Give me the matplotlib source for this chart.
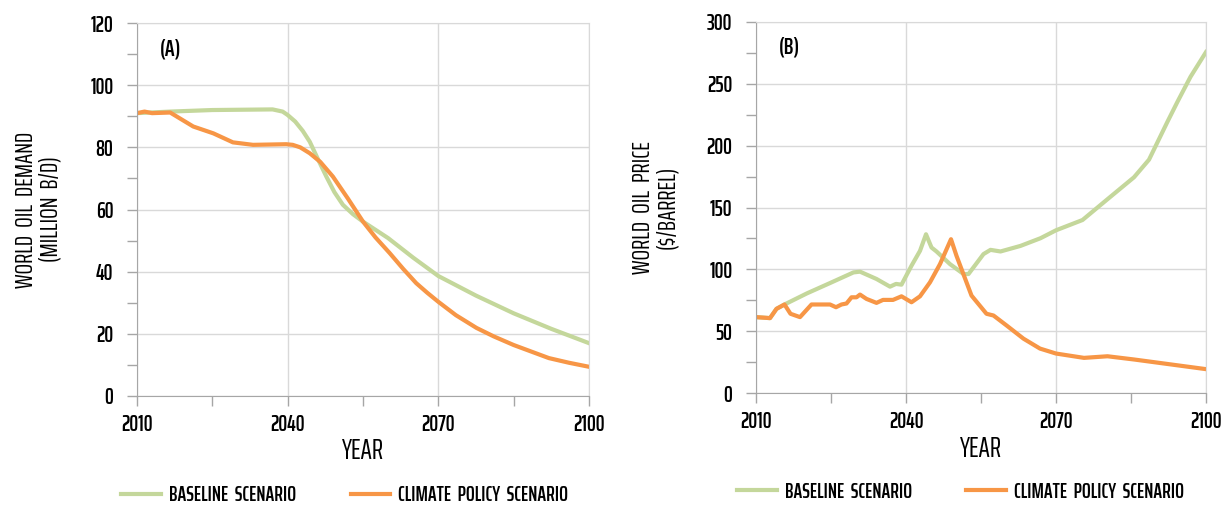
import numpy as np
import matplotlib
matplotlib.use("Agg")
import matplotlib.pyplot as plt
from matplotlib.ticker import MultipleLocator

plt.rcParams['font.family'] = ['Saira ExtraCondensed', 'DejaVu Sans']
plt.rcParams['font.weight'] = 'semibold'

# (A) World oil demand, million b/d
yr_dem_base = [2010, 2016.6, 2025, 2037, 2039, 2040, 2041.5, 2043, 2044.4, 2046, 2047.7,
               2049.3, 2051, 2053, 2055, 2060, 2065, 2070, 2077.5, 2085, 2092.5, 2100]
dem_base = [91.0, 91.5, 92.0, 92.2, 91.5, 90.4, 88.3, 85.3, 81.8, 76.3, 70.6,
            65.6, 61.5, 58.5, 56.1, 50.8, 44.5, 38.6, 32.3, 26.6, 21.6, 17.0]
yr_dem_clim = [2010, 2011.5, 2013, 2016.6, 2021.2, 2025.2, 2029.1, 2033.1, 2039.7, 2041,
               2042.5, 2044.4, 2046.5, 2049, 2052, 2055, 2057.5, 2060.3, 2063, 2065.6,
               2067.8, 2070, 2073.5, 2077.6, 2081, 2085, 2092, 2096, 2100]
dem_clim = [91.0, 91.5, 91.0, 91.2, 86.7, 84.5, 81.6, 80.8, 81.0, 80.8,
            80.0, 78.1, 75.3, 70.6, 63.5, 56.1, 51.0, 46.0, 40.9, 36.3,
            33.2, 30.3, 26.0, 21.9, 19.2, 16.4, 12.2, 10.7, 9.4]

# (B) World oil price, $/barrel
yr_price_base = [2010, 2012.8, 2014.1, 2015.7, 2020.2, 2024.8, 2029.5, 2030.8, 2034.1,
                 2036.8, 2038, 2039.1, 2041.1, 2042.8, 2044, 2045.1, 2046.1, 2048.8,
                 2051.5, 2052.5, 2055.5, 2056.9, 2058.9, 2062.9, 2066.9, 2070, 2075.3,
                 2080.3, 2085.6, 2088.6, 2092.3, 2094.3, 2096.9, 2100]
price_base = [61.5, 60.7, 68.2, 71.7, 80.7, 89.0, 97.6, 98.2, 92.3,
              86.1, 88.3, 87.7, 103.0, 115.0, 128.4, 117.7, 114.5, 104.3,
              96.3, 96.3, 112.4, 115.8, 114.5, 119.0, 125.2, 131.6, 139.9,
              156.7, 174.4, 188.6, 219.3, 235.4, 255.5, 275.5]
yr_price_clim = [2010, 2012.8, 2014.1, 2015.7, 2016.9, 2018.8, 2021.1, 2024.8, 2026,
                 2027.1, 2028.1, 2029.1, 2030.1, 2030.8, 2032.1, 2034.1, 2035.4, 2037.4,
                 2039.1, 2041.1, 2042.8, 2044.8, 2046.8, 2049, 2050.1, 2053.1, 2056.1,
                 2057.5, 2060.1, 2063.5, 2066.8, 2070, 2075.6, 2080.3, 2085.6, 2100]
price_clim = [61.5, 60.7, 68.2, 71.7, 64.2, 61.5, 71.7, 71.7, 69.5,
              71.7, 72.5, 77.5, 77.5, 79.7, 76.2, 73.0, 75.4, 75.4,
              78.3, 73.5, 78.3, 89.6, 104.3, 124.4, 111.0, 78.9, 64.2,
              62.8, 54.8, 44.1, 36.1, 32.1, 28.6, 29.9, 27.3, 19.5]

GREEN = "#C4D79B"
ORANGE = "#F79646"
GRID = "#D9D9D9"
SPINE = "#A6A6A6"

fig = plt.figure(figsize=(12.28, 5.08), dpi=100)
axA = fig.add_axes([137/1228, 1-396/508, (589-137)/1228, (396-23)/508])
axB = fig.add_axes([756/1228, 1-393.3/508, (1206-756)/1228, (393.3-21.7)/508])


def style(ax, ymax, ymaj, ymin, ylabel, tag, leg_x):
    ax.set_xlim(2010, 2100)
    ax.set_ylim(0, ymax)
    ax.set_xticks([2010, 2040, 2070, 2100])
    ax.xaxis.set_minor_locator(MultipleLocator(15))
    ax.yaxis.set_major_locator(MultipleLocator(ymaj))
    ax.yaxis.set_minor_locator(MultipleLocator(ymin))
    ax.grid(which="major", color=GRID, linewidth=1.0)
    ax.set_axisbelow(True)
    for s in ["top", "right"]:
        ax.spines[s].set_color(GRID)
    for s in ["left", "bottom"]:
        ax.spines[s].set_color(SPINE)
    ax.tick_params(which="both", direction="out", color=SPINE, labelsize=16,
                   length=7, width=1)
    ax.tick_params(axis="x", pad=6)
    ax.tick_params(axis="y", pad=10)
    ax.set_xlabel("YEAR", fontsize=20, labelpad=1)
    ax.set_ylabel(ylabel, fontsize=18, linespacing=1.0, labelpad=20)
    ax.text(0.05, 0.93, tag, transform=ax.transAxes, fontsize=17, va="center")
    ax.legend(loc="center", bbox_to_anchor=(leg_x, -0.265), ncol=2, frameon=False,
              fontsize=15, handlelength=1.9, columnspacing=2.6, handletextpad=0.4)


axA.plot(yr_dem_base, dem_base, color=GREEN, lw=3, label="BASELINE  SCENARIO")
axA.plot(yr_dem_clim, dem_clim, color=ORANGE, lw=3, label="CLIMATE  POLICY  SCENARIO")
style(axA, 120, 20, 10, "WORLD  OIL  DEMAND\n(MILLION  B/D)", "(A)", 0.46)

axB.plot(yr_price_base, price_base, color=GREEN, lw=3, label="BASELINE  SCENARIO")
axB.plot(yr_price_clim, price_clim, color=ORANGE, lw=3, label="CLIMATE  POLICY  SCENARIO")
style(axB, 300, 50, 25, "WORLD  OIL  PRICE\n($/BARREL)", "(B)", 0.455)

fig.savefig("out.png", dpi=100)
